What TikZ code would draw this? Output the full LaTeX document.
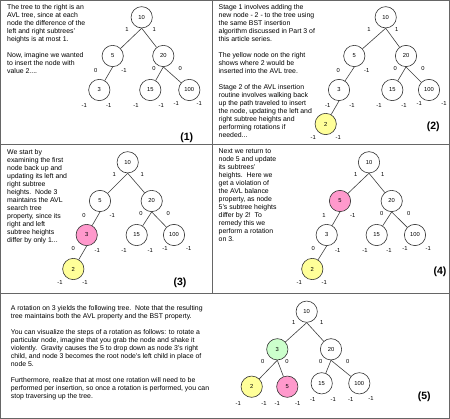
\documentclass[tikz,border=0pt]{standalone}
\usepackage{fontspec}
\setmainfont{Liberation Sans}
\definecolor{nyellow}{HTML}{FFFF99}
\definecolor{npink}{HTML}{FF99CC}
\definecolor{ngreen}{HTML}{CCFFCC}
\definecolor{framec}{HTML}{666666}
\begin{document}
\begin{tikzpicture}[x=1pt,y=-1pt,
  tn/.style={circle,draw=black!80,line width=0.6pt,minimum size=21.3pt,inner sep=0pt,fill=white,font=\fontsize{5.8}{7}\selectfont},
  lab/.style={inner sep=0pt,font=\fontsize{5.8}{7}\selectfont},
  num/.style={inner sep=0pt,font=\bfseries\fontsize{10.5}{12}\selectfont},
  txt/.style={anchor=north west,align=left,inner sep=0pt,font=\fontsize{6.9}{8}\selectfont},
  edge/.style={draw=black!75,line width=0.6pt},
  frame/.style={draw=framec,line width=1pt}]
\useasboundingbox (0,0) rectangle (450,419);
\fill[white] (0,0) rectangle (450,419);
% frames
\draw[frame] (0.5,0.5) rectangle (449.5,418.5);
\draw[frame] (212,0.5) -- (212,294);
\draw[frame] (0.5,145) -- (449.5,145);
\draw[frame] (0.5,294) -- (449.5,294);

% ---------- panel 1 ----------
\node[txt] (t1) at (7,4) {The tree to the right is an\\AVL tree, since at each\\node the difference of the\\left and right subtrees'\\heights is at most 1.\\[8pt]Now, imagine we wanted\\to insert the node with\\value 2....};
\node[tn] (a10) at (141.7,17.3) {10};
\node[tn] (a5) at (112.7,56) {5};
\node[tn] (a20) at (163.3,56) {20};
\node[tn] (a3) at (99.3,90) {3};
\node[tn] (a15) at (150.3,90) {15};
\node[tn] (a100) at (189.3,90) {100};
\draw[edge] (a10.south) -- (a5);
\draw[edge] (a10.south) -- (a20);
\draw[edge] (a5.south) -- (a3);
\draw[edge] (a20.south) -- (a15);
\draw[edge] (a20.south) -- (a100);
\node[lab] (al1) at (127,29.3) {1};
\node[lab] (al2) at (154.3,29.3) {1};
\node[lab] (al3) at (95.7,70.7) {0};
\node[lab] (al4) at (124,70.7) {-1};
\node[lab] (al5) at (154,68.3) {0};
\node[lab] (al6) at (180.3,68.3) {0};
\node[lab] (al7) at (84.3,106) {-1};
\node[lab] (al8) at (108.7,106) {-1};
\node[lab] (al9) at (136,106) {-1};
\node[lab] (al10) at (161.3,106) {-1};
\node[lab] (al11) at (176.3,104) {-1};
\node[lab] (al12) at (199.3,104) {-1};
\node[num] (n1) at (186.7,137.3) {(1)};

% ---------- panel 2 ----------
\node[txt] (t2) at (218.5,4) {Stage 1 involves adding the\\new node - 2 - to the tree using\\the same BST insertion\\algorithm discussed in Part 3 of\\this article series.\\[8pt]The yellow node on the right\\shows where 2 would be\\inserted into the AVL tree.\\[8pt]Stage 2 of the AVL insertion\\routine involves walking back\\up the path traveled to insert\\the node, updating the left and\\right subtree heights and\\performing rotations if\\needed...};
\node[tn] (b10) at (385.7,17.3) {10};
\node[tn] (b5) at (354.3,56) {5};
\node[tn] (b20) at (406,56) {20};
\node[tn] (b3) at (339,90) {3};
\node[tn] (b15) at (392.3,90) {15};
\node[tn] (b100) at (429,90) {100};
\node[tn,fill=nyellow] (b2) at (325.7,124) {2};
\draw[edge] (b10.south) -- (b5);
\draw[edge] (b10.south) -- (b20);
\draw[edge] (b5.south) -- (b3);
\draw[edge] (b20.south) -- (b15);
\draw[edge] (b20.south) -- (b100);
\draw[edge] (b3.south) -- (b2);
\node[lab] (bl1) at (369,29.3) {1};
\node[lab] (bl2) at (396.7,29.3) {1};
\node[lab] (bl3) at (338.3,70.7) {0};
\node[lab] (bl4) at (366.7,70.7) {-1};
\node[lab] (bl5) at (395.3,68.3) {0};
\node[lab] (bl6) at (423,68.3) {0};
\node[lab] (bl7) at (327.7,106) {-1};
\node[lab] (bl8) at (352,106) {-1};
\node[lab] (bl9) at (379,106) {-1};
\node[lab] (bl10) at (404,106) {-1};
\node[lab] (bl11) at (419.3,104) {-1};
\node[lab] (bl12) at (444,104) {-1};
\node[lab] (bl13) at (313.3,137.3) {-1};
\node[lab] (bl14) at (338.3,137.3) {-1};
\node[num] (n2) at (433.3,126.7) {(2)};

% ---------- panel 3 ----------
\node[txt] (t3) at (7,149) {We start by\\examining the first\\node back up and\\updating its left and\\right subtree\\heights.\ \ Node 3\\maintains the AVL\\search tree\\property, since its\\right and left\\subtree heights\\differ by only 1...};
\node[tn] (c10) at (127.7,162.3) {10};
\node[tn] (c5) at (100,201) {5};
\node[tn] (c20) at (151.7,201) {20};
\node[tn,fill=npink] (c3) at (86.7,235) {3};
\node[tn] (c15) at (136.7,235) {15};
\node[tn] (c100) at (174,235) {100};
\node[tn,fill=nyellow] (c2) at (73.3,269) {2};
\draw[edge] (c10.south) -- (c5);
\draw[edge] (c10.south) -- (c20);
\draw[edge] (c5.south) -- (c3);
\draw[edge] (c20.south) -- (c15);
\draw[edge] (c20.south) -- (c100);
\draw[edge] (c3.south) -- (c2);
\node[lab] (cl1) at (114.3,174.3) {1};
\node[lab] (cl2) at (142.3,174.3) {1};
\node[lab] (cl3) at (84,215.7) {0};
\node[lab] (cl4) at (112.3,215.7) {-1};
\node[lab] (cl5) at (141,213.3) {0};
\node[lab] (cl6) at (168.3,213.3) {0};
\node[lab] (cl7) at (73.3,249) {0};
\node[lab] (cl8) at (97.3,251) {-1};
\node[lab] (cl9) at (124,251) {-1};
\node[lab] (cl10) at (150.3,251) {-1};
\node[lab] (cl11) at (165,249) {-1};
\node[lab] (cl12) at (188.7,249) {-1};
\node[lab] (cl13) at (60,282.3) {-1};
\node[lab] (cl14) at (85,282.3) {-1};
\node[num] (n3) at (180,282.3) {(3)};

% ---------- panel 4 ----------
\node[txt] (t4) at (218.5,149) {Next we return to\\node 5 and update\\its subtrees'\\heights.\ \ Here we\\get a violation of\\the AVL balance\\property, as node\\5's subtree heights\\differ by 2!\ \ To\\remedy this we\\perform a rotation\\on 3.};
\node[tn] (d10) at (369,162.3) {10};
\node[tn,fill=npink] (d5) at (340,201) {5};
\node[tn] (d20) at (391.7,201) {20};
\node[tn] (d3) at (326.7,235) {3};
\node[tn] (d15) at (376.7,235) {15};
\node[tn] (d100) at (415,235) {100};
\node[tn,fill=nyellow] (d2) at (312.3,269) {2};
\draw[edge] (d10.south) -- (d5);
\draw[edge] (d10.south) -- (d20);
\draw[edge] (d5.south) -- (d3);
\draw[edge] (d20.south) -- (d15);
\draw[edge] (d20.south) -- (d100);
\draw[edge] (d3.south) -- (d2);
\node[lab] (dl1) at (355.7,174.3) {1};
\node[lab] (dl2) at (382.7,174.3) {1};
\node[lab] (dl3) at (324,215.7) {1};
\node[lab] (dl4) at (352.7,215.7) {-1};
\node[lab] (dl5) at (381.7,213.3) {0};
\node[lab] (dl6) at (408.7,213.3) {0};
\node[lab] (dl7) at (313.3,249) {0};
\node[lab] (dl8) at (337.7,251) {-1};
\node[lab] (dl9) at (365,251) {-1};
\node[lab] (dl10) at (389,251) {-1};
\node[lab] (dl11) at (405,249) {-1};
\node[lab] (dl12) at (428.3,249) {-1};
\node[lab] (dl13) at (299.3,282.3) {-1};
\node[lab] (dl14) at (324.3,282.3) {-1};
\node[num] (n4) at (440,271.7) {(4)};

% ---------- panel 5 ----------
\node[txt] (t5) at (10.7,305) {A rotation on 3 yields the following tree.\ \ Note that the resulting\\tree maintains both the AVL property and the BST property.\\[8pt]You can visualize the steps of a rotation as follows: to rotate a\\particular node, imagine that you grab the node and shake it\\violently.\ \ Gravity causes the 5 to drop down as node 3's right\\child, and node 3 becomes the root node's left child in place of\\node 5.\\[8pt]Furthermore, realize that at most one rotation will need to be\\performed per insertion, so once a rotation is performed, you can\\stop traversing up the tree.};
\node[tn] (e10) at (306.7,311.7) {10};
\node[tn,fill=ngreen] (e3) at (277.3,349.3) {3};
\node[tn] (e20) at (331,349.3) {20};
\node[tn,fill=nyellow] (e2) at (251.7,386.7) {2};
\node[tn,fill=npink] (e5) at (287.3,386.7) {5};
\node[tn] (e15) at (321.7,383.3) {15};
\node[tn] (e100) at (359.3,383.3) {100};
\draw[edge] (e10.south) -- (e3);
\draw[edge] (e10.south) -- (e20);
\draw[edge] (e3.south) -- (e2);
\draw[edge] (e3.south) -- (e5);
\draw[edge] (e20.south) -- (e15);
\draw[edge] (e20.south) -- (e100);
\node[lab] (el1) at (293.7,322.3) {1};
\node[lab] (el2) at (321.7,322.3) {1};
\node[lab] (el3) at (262.7,361.7) {0};
\node[lab] (el4) at (287,361.7) {0};
\node[lab] (el5) at (320.7,361.7) {0};
\node[lab] (el6) at (347.7,361.7) {0};
\node[lab] (el7) at (238.3,403.3) {-1};
\node[lab] (el8) at (264,403.3) {-1};
\node[lab] (el9) at (277.3,403.3) {-1};
\node[lab] (el10) at (297.7,403.3) {-1};
\node[lab] (el11) at (312.7,400) {-1};
\node[lab] (el12) at (333.3,400) {-1};
\node[lab] (el13) at (350.7,400) {-1};
\node[lab] (el14) at (371,398.3) {-1};
\node[num] (n5) at (424.3,396.7) {(5)};
\end{tikzpicture}
\end{document}
